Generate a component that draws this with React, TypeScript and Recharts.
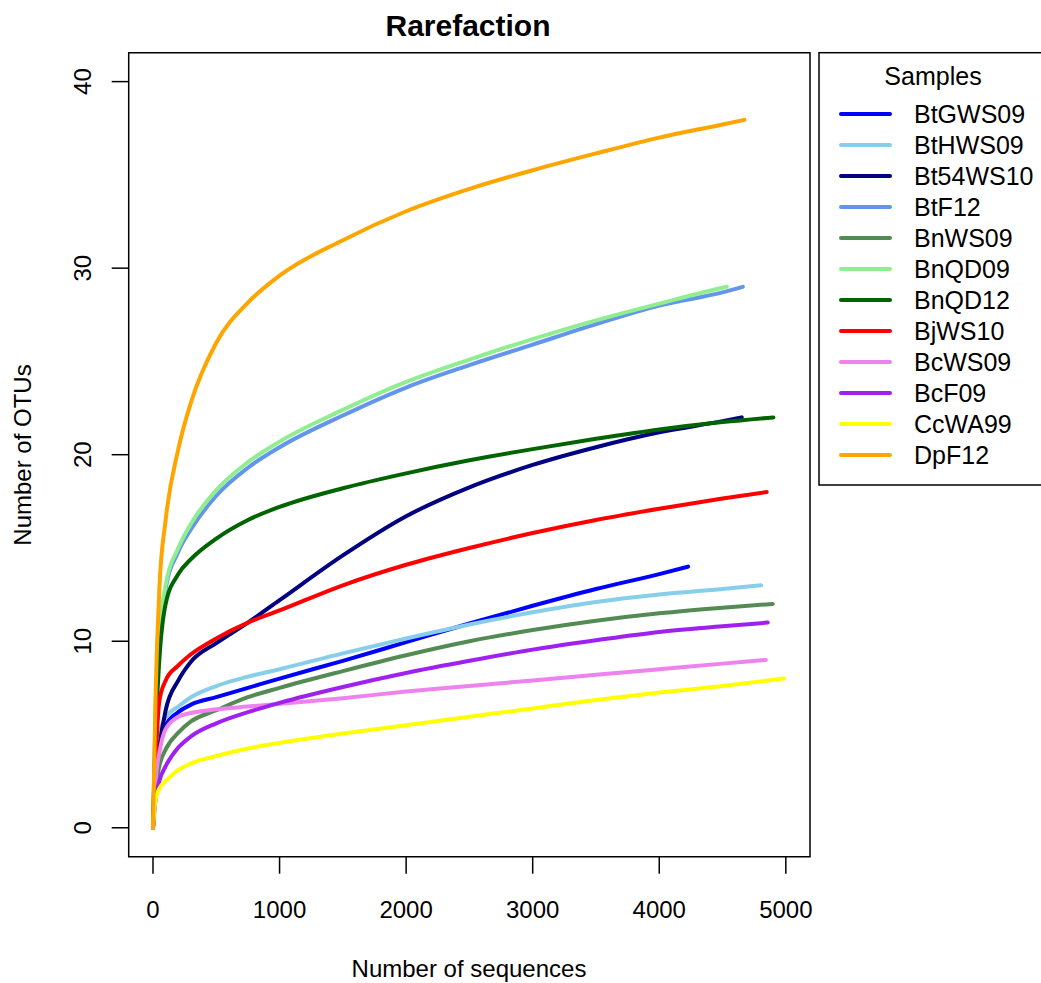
import { LineChart, Line, XAxis, YAxis, ReferenceArea } from 'recharts';

// sequencing depths at which the curves were read
const depths = [0, 20, 50, 100, 200, 300, 500, 750, 1000, 1500, 2000, 2500, 3000, 3500, 4000, 4500];

const sampleNames = [
  'BtGWS09', 'BtHWS09', 'Bt54WS10', 'BtF12', 'BnWS09', 'BnQD09',
  'BnQD12', 'BjWS10', 'BcWS09', 'BcF09', 'CcWA99', 'DpF12',
];

const sampleColors = [
  '#0000FF', '#87CEEB', '#000080', '#6495ED', '#548B54', '#90EE90',
  '#006400', '#FF0000', '#EE82EE', '#A020F0', '#FFFF00', '#FFA500',
];

// total sequences per sample (last point of each curve)
const sampleDepth = [4228, 4805, 4652, 4660, 4897, 4533, 4902, 4849, 4842, 4857, 4987, 4673];

// OTU counts at each depth below the sample total, then at the total
const otusBtGWS09 = [0, 2.5, 4.5, 5.5, 6.2, 6.6, 7.0, 7.5, 8.0, 8.95, 9.95, 10.95, 11.9, 12.8, 13.6, 14];
const otusBtHWS09 = [0, 3, 5, 5.9, 6.5, 7.0, 7.6, 8.1, 8.5, 9.35, 10.15, 10.9, 11.55, 12.1, 12.5, 12.8, 13];
const otusBt54WS10 = [0, 2.5, 4.3, 6.3, 7.9, 8.9, 9.9, 11.0, 12.2, 14.6, 16.7, 18.25, 19.45, 20.4, 21.2, 21.8, 22];
const otusBtF12 = [0, 6, 10, 12.8, 14.8, 16.0, 17.8, 19.3, 20.4, 22.1, 23.6, 24.8, 25.9, 27.0, 28.0, 28.7, 29];
const otusBnWS09 = [0, 2, 3.3, 4.2, 5.1, 5.7, 6.3, 7.0, 7.5, 8.4, 9.25, 10.0, 10.6, 11.1, 11.5, 11.8, 12];
const otusBnQD09 = [0, 6, 10.5, 13.0, 15.0, 16.3, 18.1, 19.6, 20.7, 22.4, 23.9, 25.1, 26.2, 27.2, 28.1, 28.95, 29];
const otusBnQD12 = [0, 5, 9.0, 12.0, 13.6, 14.4, 15.5, 16.5, 17.2, 18.2, 19.0, 19.7, 20.3, 20.85, 21.35, 21.75, 22];
const otusBjWS10 = [0, 3.5, 6.8, 7.9, 8.7, 9.3, 10.15, 11.0, 11.65, 13.0, 14.1, 15.0, 15.8, 16.5, 17.1, 17.65, 18];
const otusBcWS09 = [0, 2.5, 4.0, 5.3, 5.95, 6.15, 6.35, 6.5, 6.65, 6.95, 7.3, 7.6, 7.9, 8.2, 8.5, 8.8, 9];
const otusBcF09 = [0, 1.5, 2.5, 3.3, 4.3, 4.9, 5.6, 6.2, 6.7, 7.55, 8.3, 8.95, 9.55, 10.05, 10.5, 10.8, 11];
const otusCcWA99 = [0, 1.5, 2.1, 2.5, 3.1, 3.45, 3.85, 4.25, 4.55, 5.05, 5.5, 5.95, 6.4, 6.85, 7.25, 7.6, 8];
const otusDpF12 = [0, 7, 12.8, 16.5, 20.3, 22.8, 26.0, 28.15, 29.6, 31.5, 33.05, 34.25, 35.25, 36.15, 37.0, 37.7, 37.95];

const sampleOtus = [
  otusBtGWS09, otusBtHWS09, otusBt54WS10, otusBtF12, otusBnWS09, otusBnQD09,
  otusBnQD12, otusBjWS10, otusBcWS09, otusBcF09, otusCcWA99, otusDpF12,
];

const xTicks = [0, 1000, 2000, 3000, 4000, 5000];
const yTicks = [0, 10, 20, 30, 40];

const FONT = '"Liberation Sans", Arial, sans-serif';

const series = sampleNames.map((name, i) => {
  const steps = depths.filter((d) => d < sampleDepth[i]).concat(sampleDepth[i]);
  return {
    name,
    color: sampleColors[i],
    data: steps.map((depth, j) => ({ depth, otus: sampleOtus[i][j] })),
  };
});

const XTick = ({ x, y, payload }: any) => (
  <text x={x} y={y + 34} textAnchor="middle" dominantBaseline="central"
    fontFamily={FONT} fontSize={24} fill="#000">
    {payload.value}
  </text>
);

const YTick = ({ x, y, payload }: any) => (
  <text x={x - 27} y={y} transform={`rotate(-90, ${x - 27}, ${y})`} textAnchor="middle"
    dominantBaseline="central" fontFamily={FONT} fontSize={24} fill="#000">
    {payload.value}
  </text>
);

export default function App() {
  return (
    <div style={{ position: 'absolute', left: 0, top: 0, width: 1041, height: 983, background: '#fff' }}>
      <LineChart
        width={1041}
        height={983}
        margin={{ top: 52.7, right: 231, bottom: 66.3, left: 68.7 }}
      >
        <XAxis
          type="number"
          dataKey="depth"
          domain={[-192, 5191]}
          allowDataOverflow
          ticks={xTicks}
          interval={0}
          height={60}
          tickSize={17}
          axisLine={false}
          tickLine={{ stroke: '#000', strokeWidth: 1.5 }}
          tick={<XTick />}
        />
        <YAxis
          type="number"
          domain={[-1.55, 41.55]}
          allowDataOverflow
          ticks={yTicks}
          interval={0}
          width={60}
          tickSize={17}
          axisLine={false}
          tickLine={{ stroke: '#000', strokeWidth: 1.5 }}
          tick={<YTick />}
        />
        {series.map((s) => (
          <Line
            key={s.name}
            data={s.data}
            dataKey="otus"
            name={s.name}
            type="monotone"
            stroke={s.color}
            strokeWidth={4}
            strokeLinecap="round"
            dot={false}
            activeDot={false}
            isAnimationActive={false}
          />
        ))}
        <ReferenceArea
          x1={-192}
          x2={5191}
          y1={-1.55}
          y2={41.55}
          fill="none"
          fillOpacity={0}
          stroke="#000"
          strokeWidth={1.5}
          ifOverflow="visible"
        />
      </LineChart>

      <svg width={1041} height={983}
        style={{ position: 'absolute', left: 0, top: 0, pointerEvents: 'none' }}>
        <text x={468} y={25} textAnchor="middle" dominantBaseline="central"
          fontFamily={FONT} fontSize={30} fontWeight="bold">Rarefaction</text>
        <text x={469} y={968} textAnchor="middle" dominantBaseline="central"
          fontFamily={FONT} fontSize={24}>Number of sequences</text>
        <text x={22} y={455} transform="rotate(-90, 22, 455)" textAnchor="middle"
          dominantBaseline="central" fontFamily={FONT} fontSize={24}>Number of OTUs</text>

        <rect x={819} y={52.7} width={260} height={432.3} fill="none" stroke="#000" strokeWidth={1.5} />
        <text x={933} y={76} textAnchor="middle" dominantBaseline="central"
          fontFamily={FONT} fontSize={25}>Samples</text>
        {series.map((s, i) => (
          <g key={s.name}>
            <line x1={841} x2={890} y1={114 + i * 31} y2={114 + i * 31}
              stroke={s.color} strokeWidth={4} strokeLinecap="round" />
            <text x={914} y={114 + i * 31} dominantBaseline="central"
              fontFamily={FONT} fontSize={25}>{s.name}</text>
          </g>
        ))}
      </svg>
    </div>
  );
}
